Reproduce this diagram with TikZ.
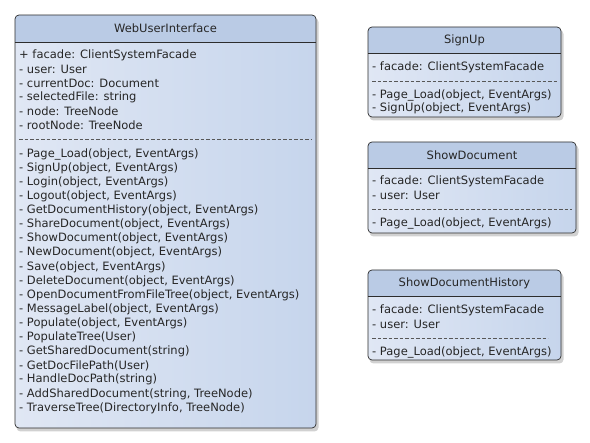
\documentclass[tikz,border=0pt]{standalone}
\usepackage{fontspec}
\setmainfont{DejaVu Sans}
\definecolor{hdr}{RGB}{186,203,229}
\definecolor{bodyA}{RGB}{224,231,244}
\definecolor{bodyB}{RGB}{198,213,236}
\definecolor{edge}{RGB}{45,45,45}
\tikzset{
  member/.style={anchor=west, inner sep=0pt, font=\fontsize{11.5}{13}\selectfont, text=black!85},
  ctitle/.style={inner sep=0pt, font=\fontsize{11.5}{13}\selectfont, text=black!85},
  sepline/.style={draw=edge!80, dash pattern=on 3.6pt off 1.9pt, line width=0.6pt},
  boxedge/.style={draw=edge, line width=0.7pt, rounded corners=4pt},
}
% #1 left, #2 top, #3 right, #4 bottom, #5 header bottom
\newcommand\umlbox[5]{%
  \fill[black, opacity=.18, rounded corners=4pt] (#1+1.5,#2+3) rectangle (#3+2.5,#4+3.5);
  \shade[left color=bodyA, right color=bodyB, rounded corners=4pt] (#1,#2) rectangle (#3,#4);
  \begin{scope}
    \clip[rounded corners=4pt] (#1,#2) rectangle (#3,#4);
    \fill[hdr] (#1,#2) rectangle (#3,#5);
  \end{scope}
  \draw[boxedge] (#1,#2) rectangle (#3,#4);
  \draw[edge, line width=0.7pt] (#1,#5) -- (#3,#5);
}
\begin{document}
\begin{tikzpicture}[x=1pt,y=-1pt]
\useasboundingbox[fill=white] (0,0) rectangle (590,443);

% WebUserInterface
\umlbox{15}{15}{316}{428}{42}
\node[ctitle] (wt) at (165.5,28.5) {WebUserInterface};
\node[member] (wa1) at (19,55) {+ facade: ClientSystemFacade};
\node[member] (wa2) at (19,69) {- user: User};
\node[member] (wa3) at (19,83) {- currentDoc: Document};
\node[member] (wa4) at (19,97) {- selectedFile: string};
\node[member] (wa5) at (19,111) {- node: TreeNode};
\node[member] (wa6) at (19,125) {- rootNode: TreeNode};
\draw[sepline] (19,139) -- (312,139);
\foreach \t [count=\i from 0] in {
  {- Page\_Load(object, EventArgs)},
  {- SignUp(object, EventArgs)},
  {- Login(object, EventArgs)},
  {- Logout(object, EventArgs)},
  {- GetDocumentHistory(object, EventArgs)},
  {- ShareDocument(object, EventArgs)},
  {- ShowDocument(object, EventArgs)},
  {- NewDocument(object, EventArgs)},
  {- Save(object, EventArgs)},
  {- DeleteDocument(object, EventArgs)},
  {- OpenDocumentFromFileTree(object, EventArgs)},
  {- MessageLabel(object, EventArgs)},
  {- Populate(object, EventArgs)},
  {- PopulateTree(User)},
  {- GetSharedDocument(string)},
  {- GetDocFilePath(User)},
  {- HandleDocPath(string)},
  {- AddSharedDocument(string, TreeNode)},
  {- TraverseTree(DirectoryInfo, TreeNode)}}
  \node[member] (wm\i) at (19,154+14.11*\i) {\t};

% SignUp
\umlbox{368}{27}{561}{117}{53}
\node[ctitle] (st) at (464.5,40.5) {SignUp};
\node[member] (sa1) at (372,67) {- facade: ClientSystemFacade};
\draw[sepline] (372,81) -- (558,81);
\node[member] (sm1) at (372,95) {- Page\_Load(object, EventArgs)};
\node[member] (sm2) at (372,108) {- SignUp(object, EventArgs)};

% ShowDocument
\umlbox{368}{142}{576}{233}{168}
\node[ctitle] (dt) at (472,155.5) {ShowDocument};
\node[member] (da1) at (372,181) {- facade: ClientSystemFacade};
\node[member] (da2) at (372,195) {- user: User};
\draw[sepline] (372,209) -- (572,209);
\node[member] (dm1) at (372,223) {- Page\_Load(object, EventArgs)};

% ShowDocumentHistory
\umlbox{368}{270}{561}{360}{296}
\node[ctitle] (ht) at (464.5,283.5) {ShowDocumentHistory};
\node[member] (ha1) at (372,310) {- facade: ClientSystemFacade};
\node[member] (ha2) at (372,324) {- user: User};
\draw[sepline] (372,338) -- (548,338);
\node[member] (hm1) at (372,352) {- Page\_Load(object, EventArgs)};
\end{tikzpicture}
\end{document}
